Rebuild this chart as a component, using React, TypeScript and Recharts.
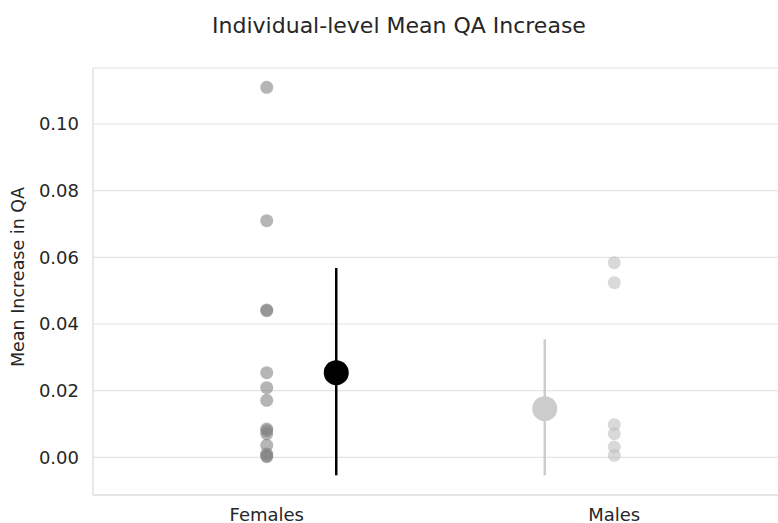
import React from 'react';
import {
  ComposedChart,
  Scatter,
  ErrorBar,
  XAxis,
  YAxis,
  CartesianGrid,
} from 'recharts';

// category labels and their positions on the numeric x axis
const GROUPS = ['Females', 'Males'];
const GROUP_POS = [0, 1];
const DODGE = 0.2;

// individual-level values (strip points)
const FEMALE_VALUES = [0.111, 0.071, 0.0442, 0.044, 0.0254, 0.0209, 0.0171, 0.0085, 0.008, 0.0071, 0.0036, 0.001, 0.0005, 0.0002];
const MALE_VALUES = [0.0584, 0.0524, 0.0098, 0.0071, 0.0031, 0.0006];

// group means and confidence interval bounds
const MEANS = [0.0254, 0.0146];
const CI_LOW = [-0.0054, -0.0054];
const CI_HIGH = [0.0568, 0.0354];

const Y_TICKS = [0, 0.02, 0.04, 0.06, 0.08, 0.1];

const FONT = '"DejaVu Sans", sans-serif';
const TEXT = '#262626';

const femaleStrip = FEMALE_VALUES.map(v => ({ x: GROUP_POS[0], y: v }));
const maleStrip = MALE_VALUES.map(v => ({ x: GROUP_POS[1], y: v }));

const meanPoint = (i: number, side: number) => [{
  x: GROUP_POS[i] + side * DODGE,
  y: MEANS[i],
  err: [MEANS[i] - CI_LOW[i], CI_HIGH[i] - MEANS[i]],
}];

const dot = (r: number, fill: string, opacity = 1) => (props: any) => (
  <circle cx={props.cx} cy={props.cy} r={r} fill={fill} fillOpacity={opacity} />
);

const YLabel = () => (
  <text
    x={18}
    y={277}
    transform="rotate(-90 18 277)"
    textAnchor="middle"
    dominantBaseline="central"
    fill={TEXT}
    fontSize={17.5}
    fontFamily={FONT}
  >
    Mean Increase in QA
  </text>
);

export default function App() {
  return (
    <div
      style={{
        position: 'absolute',
        left: 0,
        top: 0,
        width: 778,
        height: 523,
        overflow: 'hidden',
        background: '#fff',
        fontFamily: FONT,
      }}
    >
      <div
        style={{
          position: 'absolute',
          top: 15,
          left: 0,
          width: 798,
          textAlign: 'center',
          fontSize: 22,
          lineHeight: '22px',
          color: TEXT,
        }}
      >
        Individual-level Mean QA Increase
      </div>
      <ComposedChart
        width={800}
        height={523}
        margin={{ top: 68, right: 12, bottom: 0, left: 0 }}
      >
        <CartesianGrid vertical={false} stroke="#e4e4e4" strokeWidth={1.2} />
        <XAxis
          type="number"
          dataKey="x"
          domain={[-0.5, 1.5]}
          ticks={GROUP_POS}
          tickFormatter={(v: number) => GROUPS[v] ?? ''}
          allowDataOverflow
          height={28}
          axisLine={{ stroke: '#e0e0e0', strokeWidth: 1.5 }}
          tickLine={false}
          tickSize={0}
          tickMargin={13}
          tick={{ fill: TEXT, fontSize: 18, fontFamily: FONT }}
        />
        <YAxis
          type="number"
          dataKey="y"
          domain={[-0.0113, 0.1168]}
          ticks={Y_TICKS}
          tickFormatter={(v: number) => v.toFixed(2)}
          allowDataOverflow
          width={93}
          axisLine={{ stroke: '#e0e0e0', strokeWidth: 1.5 }}
          tickLine={false}
          tickSize={0}
          tickMargin={14}
          tick={{ fill: TEXT, fontSize: 18, fontFamily: FONT }}
          label={<YLabel />}
        />
        <Scatter
          data={femaleStrip}
          shape={dot(6.5, '#808080', 0.58)}
          isAnimationActive={false}
        />
        <Scatter
          data={maleStrip}
          shape={dot(6.5, '#c0c0c0', 0.6)}
          isAnimationActive={false}
        />
        <Scatter
          data={meanPoint(0, 1)}
          shape={dot(12.5, '#000000')}
          isAnimationActive={false}
        >
          <ErrorBar dataKey="err" direction="y" width={0} stroke="#000000" strokeWidth={2.5} />
        </Scatter>
        <Scatter
          data={meanPoint(1, -1)}
          shape={dot(12.5, '#cccccc')}
          isAnimationActive={false}
        >
          <ErrorBar dataKey="err" direction="y" width={0} stroke="#cccccc" strokeWidth={2.5} />
        </Scatter>
      </ComposedChart>
    </div>
  );
}
